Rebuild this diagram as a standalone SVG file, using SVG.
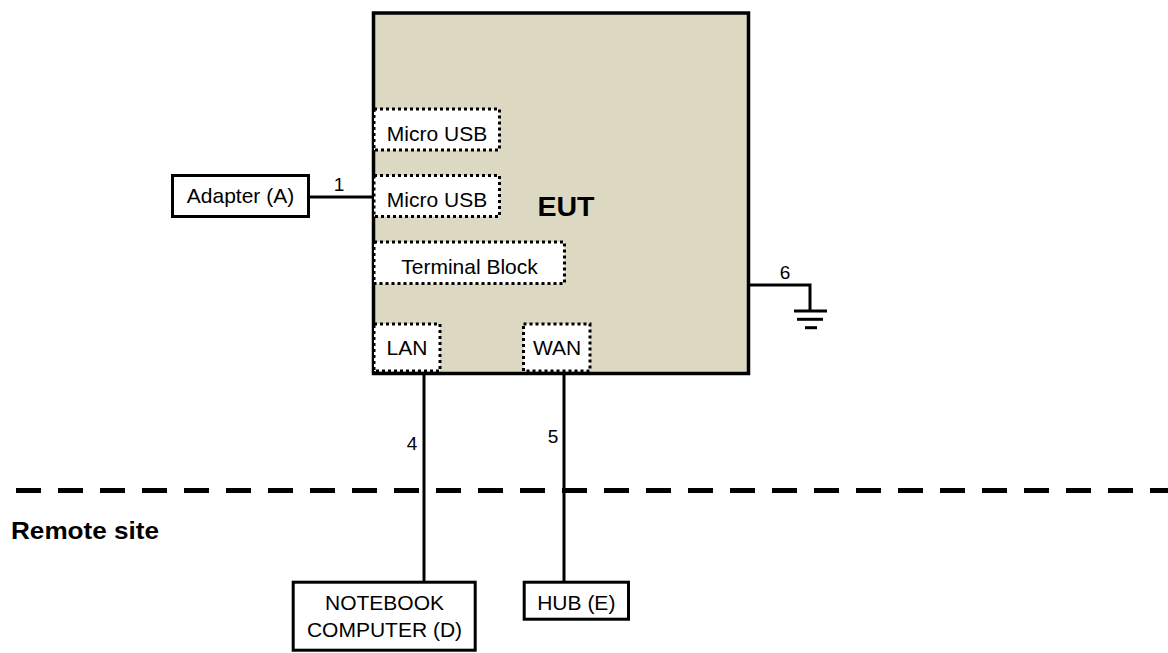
<svg xmlns="http://www.w3.org/2000/svg" width="1168" height="653" viewBox="0 0 1168 653">
<style>
.box{fill:#fff;stroke:#000;stroke-width:3}
.port{fill:#fff;stroke:#000;stroke-width:3;stroke-dasharray:3 3}
.t{font-family:"Liberation Sans",Arial,sans-serif;font-size:21px;fill:#000;text-anchor:middle}
.lbl{font-family:"Liberation Sans",Arial,sans-serif;font-size:19px;fill:#000;text-anchor:middle}
.b{font-family:"Liberation Sans",Arial,sans-serif;font-weight:bold;fill:#000}
.wire{fill:none;stroke:#000;stroke-width:3}
</style>
<rect width="1168" height="653" fill="#fff"/>
<g id="eut">
<rect x="373.5" y="13" width="375" height="360.5" fill="#DDD8C2" stroke="#000" stroke-width="3.5"/>
<text class="b" x="566" y="216" font-size="28.5" text-anchor="middle">EUT</text>
</g>
<g id="micro-usb-1">
<rect class="port" x="374" y="109" width="125.5" height="41"/>
<text class="t" x="437" y="140.5">Micro USB</text>
</g>
<g id="micro-usb-2">
<rect class="port" x="374" y="175.5" width="125.5" height="41"/>
<text class="t" x="437" y="206.5">Micro USB</text>
</g>
<g id="terminal-block">
<rect class="port" x="374" y="242" width="190.5" height="41.5"/>
<text class="t" x="469.5" y="274">Terminal Block</text>
</g>
<g id="lan">
<rect class="port" x="374" y="324" width="66" height="47"/>
<text class="t" x="407" y="355">LAN</text>
</g>
<g id="wan">
<rect class="port" x="523.5" y="324" width="66.5" height="47"/>
<text class="t" x="557" y="355">WAN</text>
</g>
<g id="adapter">
<rect class="box" x="172.5" y="175.5" width="136" height="41"/>
<text class="t" x="240.5" y="202.5">Adapter (A)</text>
</g>
<g id="notebook">
<rect class="box" x="293.2" y="582.2" width="182" height="68"/>
<text class="t" x="384.5" y="610">NOTEBOOK</text>
<text class="t" x="384.5" y="637">COMPUTER (D)</text>
</g>
<g id="hub">
<rect class="box" x="524.2" y="582.2" width="104.3" height="37"/>
<text class="t" x="576.3" y="610">HUB (E)</text>
</g>
<g id="ground">
<line class="wire" x1="794" y1="311" x2="827" y2="311"/>
<line class="wire" x1="797" y1="319.3" x2="823" y2="319.3"/>
<line class="wire" x1="805" y1="327.7" x2="817" y2="327.7"/>
</g>
<g id="connectors">
<path class="wire" d="M310 197H373"/>
<path class="wire" d="M424 373V581"/>
<path class="wire" d="M564 373V581"/>
<path class="wire" d="M750 285H810V311"/>
<text class="lbl" x="339" y="191">1</text>
<text class="lbl" x="412" y="450">4</text>
<text class="lbl" x="553" y="443">5</text>
<text class="lbl" x="785" y="279">6</text>
</g>
<g id="boundary">
<line x1="16" y1="490.5" x2="1168" y2="490.5" stroke="#000" stroke-width="5" stroke-dasharray="25 17"/>
<text class="b" x="11" y="538.5" font-size="24" textLength="148" lengthAdjust="spacingAndGlyphs">Remote site</text>
</g>
</svg>
